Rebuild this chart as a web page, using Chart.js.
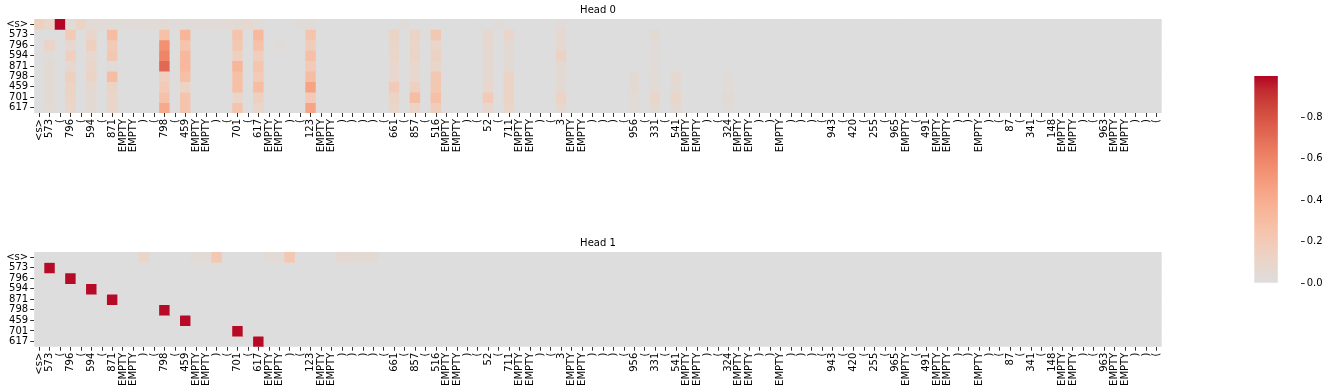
<!DOCTYPE html>
<html>
<head>
<meta charset="utf-8">
<script src="https://cdn.jsdelivr.net/npm/chart.js@4.4.0/dist/chart.umd.min.js"></script>
<style>
  html, body { margin: 0; padding: 0; background: #fff; }
  body { width: 1328px; height: 392px; position: relative; overflow: hidden; }
  .box { position: absolute; }
</style>
</head>
<body>
<div class="box" style="left:0;top:0;width:1200px;height:160px"><canvas id="head0"></canvas></div>
<div class="box" style="left:0;top:232px;width:1200px;height:160px"><canvas id="head1"></canvas></div>
<div class="box" style="left:1240px;top:60px;width:88px;height:240px"><canvas id="cbar"></canvas></div>
<script>
// token labels along x (keys), query tokens along y
const colLabels = [
  '<s>', '573', '(', '796', '(', '594', '(', '871', 'EMPTY', 'EMPTY',
  ')', '(', '798', '(', '459', 'EMPTY', 'EMPTY', ')', '(', '701',
  '(', '617', 'EMPTY', 'EMPTY', ')', '(', '123', 'EMPTY', 'EMPTY', ')',
  ')', ')', ')', '(', '661', '(', '857', '(', '516', 'EMPTY',
  'EMPTY', ')', '(', '52', '(', '711', 'EMPTY', 'EMPTY', ')', '(',
  '3', 'EMPTY', 'EMPTY', ')', ')', ')', '(', '956', '(', '331',
  '(', '541', 'EMPTY', 'EMPTY', ')', '(', '324', 'EMPTY', 'EMPTY', ')',
  ')', 'EMPTY', ')', ')', ')', '(', '943', '(', '420', '(',
  '255', '(', '965', 'EMPTY', '(', '491', 'EMPTY', 'EMPTY', ')', ')',
  'EMPTY', ')', '(', '87', '(', '341', '(', '148', 'EMPTY', 'EMPTY',
  ')', '(', '963', 'EMPTY', 'EMPTY', ')', ')', '('
];
const rowLabels = ['<s>', '573', '796', '594', '871', '798', '459', '701', '617'];

// attention weights, one object per row: {column index: weight}, cells not listed are 0
const head0Cells = [
  {0: 0.15, 1: 0.1, 2: 1.0, 3: 0.03, 4: 0.12, 5: 0.04, 6: 0.04, 7: 0.03, 8: 0.03, 9: 0.02, 10: 0.03,
   11: 0.03, 12: 0.05, 13: 0.02, 14: 0.03, 15: 0.02, 16: 0.02, 17: 0.03, 18: 0.04, 19: 0.05, 20: 0.07,
   21: 0.03, 25: 0.03, 26: 0.03, 35: 0.02, 44: 0.02, 50: 0.02},
  {3: 0.2, 5: 0.1, 7: 0.3, 12: 0.27, 14: 0.35, 19: 0.25, 21: 0.33, 26: 0.25, 34: 0.12, 36: 0.12,
   38: 0.22, 43: 0.08, 45: 0.1, 50: 0.06, 59: 0.05},
  {1: 0.12, 3: 0.07, 5: 0.16, 7: 0.2, 12: 0.55, 14: 0.25, 19: 0.22, 21: 0.27, 23: 0.02, 26: 0.18,
   34: 0.1, 36: 0.1, 38: 0.1, 43: 0.07, 45: 0.05, 50: 0.06, 59: 0.02},
  {1: 0.03, 3: 0.16, 5: 0.08, 7: 0.22, 12: 0.6, 14: 0.33, 19: 0.15, 21: 0.17, 26: 0.28, 34: 0.1,
   36: 0.12, 38: 0.13, 43: 0.06, 45: 0.05, 50: 0.13, 59: 0.02},
  {1: 0.05, 3: 0.07, 5: 0.1, 7: 0.03, 12: 0.72, 14: 0.33, 19: 0.35, 21: 0.24, 26: 0.2, 34: 0.08,
   36: 0.08, 38: 0.1, 43: 0.06, 45: 0.05, 50: 0.05, 59: 0.02},
  {1: 0.05, 3: 0.16, 5: 0.12, 7: 0.3, 12: 0.15, 14: 0.28, 19: 0.28, 21: 0.2, 26: 0.3, 34: 0.08,
   36: 0.08, 38: 0.22, 43: 0.06, 45: 0.12, 50: 0.05, 57: 0.05, 59: 0.04, 61: 0.06, 66: 0.03},
  {1: 0.05, 3: 0.12, 5: 0.06, 7: 0.12, 12: 0.2, 14: 0.12, 19: 0.28, 21: 0.3, 26: 0.45, 34: 0.2,
   36: 0.15, 38: 0.22, 43: 0.08, 45: 0.12, 50: 0.05, 57: 0.05, 59: 0.04, 61: 0.05, 66: 0.04},
  {1: 0.05, 3: 0.12, 5: 0.05, 7: 0.1, 12: 0.27, 14: 0.25, 19: 0.1, 21: 0.15, 26: 0.2, 34: 0.12,
   36: 0.3, 38: 0.28, 43: 0.2, 45: 0.12, 50: 0.12, 57: 0.04, 59: 0.1, 61: 0.1, 66: 0.05},
  {1: 0.04, 3: 0.1, 5: 0.05, 7: 0.1, 12: 0.42, 14: 0.25, 19: 0.25, 21: 0.1, 26: 0.45, 34: 0.1,
   36: 0.12, 38: 0.18, 43: 0.08, 45: 0.1, 50: 0.06, 57: 0.03, 59: 0.05, 61: 0.05, 66: 0.03}
];
const head1Cells = [
  {10: 0.1, 15: 0.04, 16: 0.04, 17: 0.22, 22: 0.04, 23: 0.04, 24: 0.22, 29: 0.06, 30: 0.05, 31: 0.05, 32: 0.05},
  {1: 0.99},
  {3: 0.99},
  {5: 0.99},
  {7: 0.99},
  {12: 0.99},
  {14: 0.99},
  {19: 0.99},
  {21: 0.99}
];
const colorbarTicks = [0.0, 0.2, 0.4, 0.6, 0.8];
const vmax = 1.0;

// upper half of the coolwarm map (seaborn heatmap with center=0)
const coolwarmTop = [
  [221, 221, 221], [229, 216, 209], [236, 211, 197], [241, 204, 185], [245, 196, 173],
  [247, 187, 160], [247, 177, 148], [247, 166, 135], [244, 154, 123], [241, 141, 111],
  [236, 127, 99], [229, 112, 88], [222, 96, 77], [213, 80, 66], [203, 62, 56],
  [192, 40, 47], [180, 4, 38]
];

function cellColor(v) {
  let t = Math.min(Math.max(v / vmax, 0), 1) * (coolwarmTop.length - 1);
  let i = Math.min(Math.floor(t), coolwarmTop.length - 2);
  let f = t - i;
  let a = coolwarmTop[i], b = coolwarmTop[i + 1];
  return 'rgb(' + a.map((c, k) => Math.round(c + (b[k] - c) * f)).join(',') + ')';
}

Chart.defaults.font.family = 'DejaVu Sans';
Chart.defaults.font.size = 10;
Chart.defaults.color = '#000';

const tickFont = { family: 'DejaVu Sans', size: 10 };

function heatmap(id, title, cells, xAxisHeight, titleTop) {
  // each row is a dataset of unit-height stacked bars, coloured by weight
  const datasets = cells.map((row, r) => ({
    label: rowLabels[r],
    data: colLabels.map(() => 1),
    backgroundColor: colLabels.map((_, c) => cellColor(row[c] || 0)),
    borderWidth: 0,
    barPercentage: 1,
    categoryPercentage: 1
  }));

  return new Chart(document.getElementById(id), {
    type: 'bar',
    data: { labels: colLabels, datasets: datasets },
    options: {
      responsive: true,
      maintainAspectRatio: false,
      animation: false,
      layout: { padding: { left: 0, right: 38.3, top: 0, bottom: 0 } },
      plugins: {
        legend: { display: false },
        tooltip: { enabled: false },
        title: {
          display: true,
          text: title,
          fullSize: false,
          color: '#000',
          font: { family: 'DejaVu Sans', size: 10, weight: 'normal', lineHeight: 1.2 },
          padding: { top: titleTop, bottom: 3 }
        }
      },
      scales: {
        x: {
          stacked: true,
          offset: true,
          border: { display: false },
          grid: { drawOnChartArea: false, offset: false, tickLength: 4, tickColor: '#333', tickWidth: 1 },
          ticks: { autoSkip: false, minRotation: 90, maxRotation: 90, padding: 2, font: tickFont, color: '#000' },
          afterFit: (axis) => { axis.height = xAxisHeight; }
        },
        y: {
          type: 'linear',
          stacked: true,
          reverse: true,
          min: 0,
          max: rowLabels.length,
          border: { display: false },
          grid: { drawOnChartArea: false, tickLength: 4, tickColor: '#333', tickWidth: 1 },
          afterBuildTicks: (axis) => { axis.ticks = rowLabels.map((_, i) => ({ value: i + 0.5 })); },
          ticks: { autoSkip: false, padding: 2, font: tickFont, color: '#000', callback: (v, i) => rowLabels[i] },
          afterFit: (axis) => { axis.width = 34.2; }
        }
      }
    }
  });
}

heatmap('head0', 'Head 0', head0Cells, 47, 4);
heatmap('head1', 'Head 1', head1Cells, 45.3, 5);

// colour bar
new Chart(document.getElementById('cbar'), {
  type: 'bar',
  data: {
    labels: [''],
    datasets: [{
      data: [vmax],
      borderWidth: 0,
      barPercentage: 1,
      categoryPercentage: 1,
      backgroundColor: (ctx) => {
        const chart = ctx.chart;
        if (!chart.chartArea) return cellColor(0);
        const y = chart.scales.y;
        const g = chart.ctx.createLinearGradient(0, y.getPixelForValue(0), 0, y.getPixelForValue(vmax));
        coolwarmTop.forEach((c, i) => g.addColorStop(i / (coolwarmTop.length - 1), 'rgb(' + c.join(',') + ')'));
        return g;
      }
    }]
  },
  options: {
    responsive: true,
    maintainAspectRatio: false,
    animation: false,
    layout: { padding: { left: 14.3, right: 0, top: 16, bottom: 17 } },
    plugins: { legend: { display: false }, tooltip: { enabled: false } },
    scales: {
      x: { display: false, offset: false },
      y: {
        position: 'right',
        min: 0,
        max: vmax,
        border: { display: false },
        grid: { drawOnChartArea: false, tickLength: 4, tickColor: '#333', tickWidth: 1 },
        afterBuildTicks: (axis) => { axis.ticks = colorbarTicks.map(v => ({ value: v })); },
        ticks: { padding: 2, font: tickFont, color: '#000', callback: (v) => v.toFixed(1) },
        afterFit: (axis) => { axis.width = 27.3; }
      }
    }
  }
});
</script>
</body>
</html>
